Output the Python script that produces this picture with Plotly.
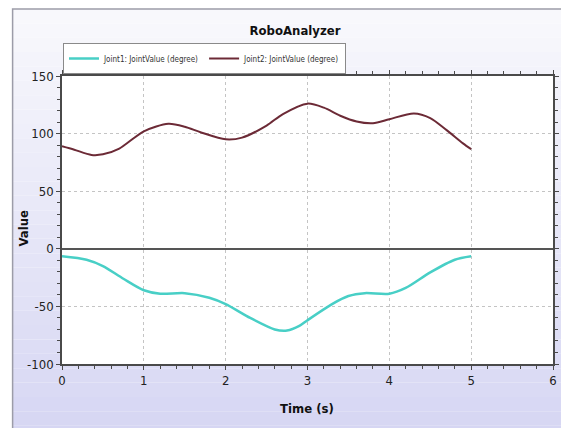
import plotly.graph_objects as go

# Joint trajectories (degrees) sampled along the time axis (s)
joint1_time = [0.0, 0.3, 0.5, 0.75, 1.0, 1.2, 1.5, 1.8, 2.0, 2.3, 2.6, 2.75, 2.9, 3.0,
               3.3, 3.5, 3.7, 4.0, 4.2, 4.5, 4.8, 5.0]
joint1_value = [-6.5, -9.5, -15, -26, -36, -39, -38.5, -42.5, -48, -60, -70, -71, -67, -62,
                -48, -41, -38.5, -39, -34, -20.5, -9.5, -6.5]

joint2_time = [0.0, 0.15, 0.36, 0.5, 0.7, 1.0, 1.3, 1.5, 1.7, 2.0, 2.2, 2.5, 2.7, 3.0,
               3.2, 3.4, 3.6, 3.8, 4.0, 4.3, 4.5, 4.7, 4.9, 5.0]
joint2_value = [89, 86, 81.5, 82, 87, 102, 108.5, 106, 101, 95, 96.5, 107, 117, 126,
                122.5, 115.5, 110.5, 109, 112.5, 117.5, 113.5, 103, 91.5, 86.5]

x_ticks = [0, 1, 2, 3, 4, 5, 6]
y_ticks = [150, 100, 50, 0, -50, -100]

W, H = 561, 428
ML, MR, MT, MB = 62, 2, 76, 64
PW, PH = W - ML - MR, H - MT - MB

NARROW = "DejaVu Sans Condensed, Liberation Sans Narrow, Arial Narrow, Liberation Sans, sans-serif"


def px_x(px):
    return (px - ML) / PW


def px_y(py):
    return (H - MB - py) / PH


def mix(c1, c2, t):
    return "#%02x%02x%02x" % tuple(round(a + (b - a) * t) for a, b in zip(c1, c2))


fig = go.Figure()

fig.add_trace(go.Scatter(
    x=joint1_time, y=joint1_value, mode="lines",
    name="Joint1: JointValue (degree)",
    line=dict(color="#48CFC6", width=2.5, shape="spline", smoothing=0.8),
))
fig.add_trace(go.Scatter(
    x=joint2_time, y=joint2_value, mode="lines",
    name="Joint2: JointValue (degree)",
    line=dict(color="#6C2A36", width=2, shape="spline", smoothing=0.8),
))

# Chart panel: soft lavender gradient inside a grey frame
shapes = []
top_px, bot_px, left_px, right_px = 9, 440, 12, 575
top_col, bot_col = (248, 248, 252), (214, 214, 243)
n_bands = 30
for i in range(n_bands):
    y0 = top_px + (bot_px - top_px) * i / n_bands
    y1 = top_px + (bot_px - top_px) * (i + 1) / n_bands
    shapes.append(dict(
        type="rect", xref="paper", yref="paper", layer="below",
        x0=px_x(left_px), x1=px_x(right_px), y0=px_y(y1), y1=px_y(y0),
        fillcolor=mix(top_col, bot_col, i / (n_bands - 1)), line=dict(width=0),
    ))
shapes.append(dict(
    type="rect", xref="paper", yref="paper", layer="below",
    x0=px_x(left_px), x1=px_x(right_px), y0=px_y(bot_px), y1=px_y(top_px),
    fillcolor="rgba(0,0,0,0)", line=dict(color="#9C9CA8", width=1.5),
))
# white plotting area
shapes.append(dict(
    type="rect", xref="paper", yref="paper", layer="below",
    x0=0, x1=1, y0=0, y1=1, fillcolor="white", line=dict(width=0),
))

axis_common = dict(
    showline=True, linecolor="#4A4A4A", linewidth=1.5, mirror="ticks",
    ticks="outside", ticklen=4, tickcolor="#4A4A4A", tickwidth=1,
    showgrid=True, gridcolor="#C4C4C4", griddash="dot", gridwidth=1,
    tickfont=dict(family=NARROW, size=13, color="#222222"),
)

fig.update_layout(
    width=W, height=H,
    margin=dict(l=ML, r=MR, t=MT, b=MB),
    paper_bgcolor="white", plot_bgcolor="white",
    shapes=shapes,
    title=dict(text="<b>RoboAnalyzer</b>", x=295 / W, xanchor="center",
               y=1 - 30 / H, yanchor="middle",
               font=dict(family=NARROW, size=13, color="#111111")),
    showlegend=True,
    legend=dict(
        orientation="h", x=px_x(63), xanchor="left", y=px_y(74), yanchor="bottom",
        bgcolor="white", bordercolor="#8A8A8A", borderwidth=1,
        font=dict(family=NARROW, size=8, color="#333333"),
        itemwidth=30, tracegroupgap=0,
    ),
    xaxis=dict(
        range=[0, 6], tickvals=x_ticks, ticktext=[str(v) for v in x_ticks],
        minor=dict(dtick=0.2, ticks="outside", ticklen=3, tickcolor="#4A4A4A", showgrid=False),
        zeroline=False,
        **axis_common,
    ),
    yaxis=dict(
        range=[-100, 150], tickvals=y_ticks, ticktext=[str(v) for v in y_ticks],
        minor=dict(dtick=10, ticks="outside", ticklen=3, tickcolor="#4A4A4A", showgrid=False),
        zeroline=True, zerolinecolor="#555555", zerolinewidth=1.5,
        **axis_common,
    ),
    annotations=[
        dict(text="<b>Time (s)</b>", xref="paper", yref="paper",
             x=px_x(310), y=px_y(408), xanchor="center", yanchor="middle",
             showarrow=False, font=dict(family=NARROW, size=13, color="#111111")),
        dict(text="<b>Value</b>", xref="paper", yref="paper", textangle=-90,
             x=px_x(23), y=px_y(228), xanchor="center", yanchor="middle",
             showarrow=False, font=dict(family=NARROW, size=13, color="#111111")),
    ],
)

fig.write_html("out.html")
